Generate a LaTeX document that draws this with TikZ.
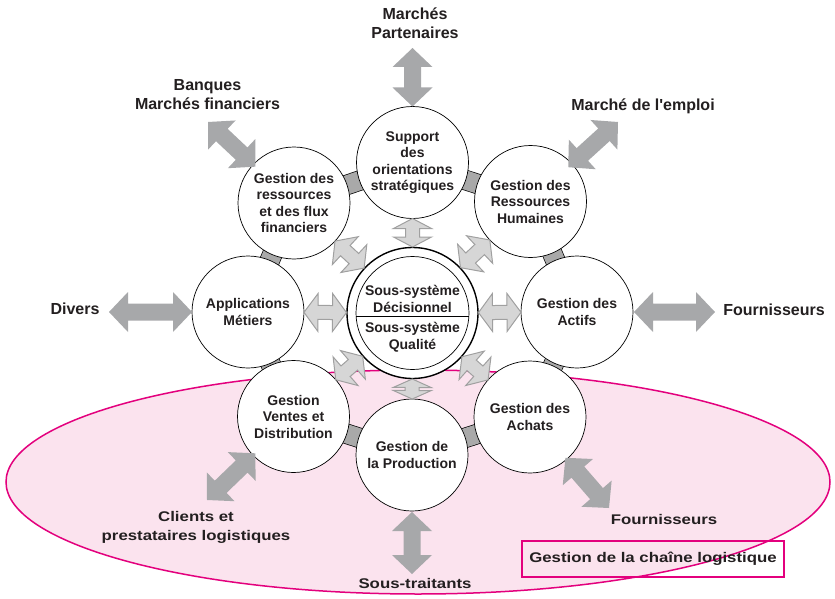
\documentclass[tikz,border=0pt]{standalone}
\usepackage{fontspec}
\setmainfont{Liberation Sans}
\newfontfamily\widefont[FakeStretch=1.2]{Liberation Sans}
\usetikzlibrary{calc}
\definecolor{bandgray}{HTML}{A9A9A9}
\definecolor{outarrow}{HTML}{A7A8AA}
\definecolor{inarrowfill}{HTML}{D6D6D6}
\definecolor{inarrowdraw}{HTML}{A0A0A0}
\definecolor{pinkfill}{HTML}{FBE3EE}
\definecolor{magentaline}{HTML}{E3007D}
\definecolor{txt}{HTML}{231F20}
\pgfdeclarelayer{bg}
\pgfsetlayers{bg,main}
\newcommand{\dblarrow}[6]{%
  \path (#1) coordinate (dA) (#2) coordinate (dB);
  \path ($(dA)!#4!(dB)$) coordinate (dA1) ($(dB)!#4!(dA)$) coordinate (dB1);
  \path[#3] (dA) -- ($(dA1)!#5!90:(dB)$) -- ($(dA1)!#6!90:(dB)$)
    -- ($(dB1)!#6!-90:(dA)$) -- ($(dB1)!#5!-90:(dA)$) -- (dB)
    -- ($(dB1)!#5!90:(dA)$) -- ($(dB1)!#6!90:(dA)$)
    -- ($(dA1)!#6!-90:(dB)$) -- ($(dA1)!#5!-90:(dB)$) -- cycle;
}
\begin{document}
\begin{tikzpicture}[x=1pt,y=-1pt,
  circ/.style={circle, draw=black, line width=0.7pt, fill=white, minimum size=112pt,
    inner sep=0pt, align=center, text=txt, font=\fontsize{14}{16.5}\selectfont\bfseries},
  ctext/.style={align=center, text=txt, inner sep=0pt, font=\fontsize{14}{16.5}\selectfont\bfseries},
  lab/.style={align=center, text=txt, inner sep=0pt, font=\fontsize{16}{19}\selectfont\bfseries},
  blab/.style={align=center, text=txt, inner sep=0pt, font=\widefont\fontsize{14}{19}\selectfont\bfseries},
  band/.style={draw=black, line width=0.7pt, double=bandgray, double distance=19pt},
  outarr/.style={fill=outarrow},
  inarr/.style={fill=inarrowfill, draw=inarrowdraw, line width=1pt, line join=miter}]
\useasboundingbox (0,0) rectangle (835,599);

% circles
\node[circ] (T)  at (412.5,162.5) {Support\\des\\orientations\\stratégiques};
\node[circ] (TR) at (530.5,201.5) {Gestion des\\Ressources\\Humaines};
\node[circ] (R)  at (577,312) {Gestion des\\Actifs};
\node[circ] (BR) at (530,417) {Gestion des\\Achats};
\node[circ] (B)  at (412,455) {Gestion de\\la Production};
\node[circ] (BL) at (293.5,416.5) {Gestion\\Ventes et\\Distribution};
\node[circ] (L)  at (248,312) {Applications\\Métiers};
\node[circ] (TL) at (294,203) {Gestion des\\ressources\\et des flux\\financiers};

% centre
\node[circle, draw=black, line width=1.4pt, fill=white, minimum size=131pt, inner sep=0pt] (C) at (412.5,313) {};
\node[circle, draw=black, line width=0.7pt, minimum size=113pt, inner sep=0pt] (Ci) at (C.center) {};
\draw[line width=0.7pt] ([yshift=-3pt]Ci.west) -- ([yshift=-3pt]Ci.east);
\node[ctext] (Cu) at (412.5,299) {Sous-système\\Décisionnel};
\node[ctext] (Cl) at (412.5,337) {Sous-système\\Qualité};

% background: ellipse and bands
\begin{pgfonlayer}{bg}
  \draw[fill=pinkfill, draw=magentaline, line width=1.5pt] (418,482) ellipse [x radius=412pt, y radius=112pt];
  \draw[band] (T.center) -- (TR.center);
  \draw[band] (TR.center) -- (R.center);
  \draw[band] (R.center) -- (BR.center);
  \draw[band] (BR.center) -- (B.center);
  \draw[band] (B.center) -- (BL.center);
  \draw[band] (BL.center) -- (L.center);
  \draw[band] (L.center) -- (TL.center);
  \draw[band] (TL.center) -- (T.center);
\end{pgfonlayer}

% inner arrows
\dblarrow{$(C)!66pt!(T)$}{$(T)!56pt!(C)$}{inarr}{10pt}{19pt}{7pt}
\dblarrow{$(C)!66pt!(TR)$}{$(TR)!56pt!(C)$}{inarr}{14pt}{19pt}{7pt}
\dblarrow{$(C)!66pt!(R)$}{$(R)!56pt!(C)$}{inarr}{14pt}{19pt}{7pt}
\dblarrow{$(C)!66pt!(BR)$}{$(BR)!56pt!(C)$}{inarr}{13pt}{19pt}{7pt}
\dblarrow{$(C)!66pt!(B)$}{$(B)!56pt!(C)$}{inarr}{8.5pt}{19pt}{7pt}
\dblarrow{$(C)!66pt!(BL)$}{$(BL)!56pt!(C)$}{inarr}{13pt}{19pt}{7pt}
\dblarrow{$(C)!66pt!(L)$}{$(L)!56pt!(C)$}{inarr}{14pt}{19pt}{7pt}
\dblarrow{$(C)!66pt!(TL)$}{$(TL)!56pt!(C)$}{inarr}{14pt}{19pt}{7pt}

% outer arrows
\coordinate (oT) at (412.5,48);
\coordinate (oL) at (109,312);
\coordinate (oR) at (715,312);
\coordinate (oTL) at (208,122);
\coordinate (oTR) at (618,122);
\coordinate (oBL) at (207,500);
\coordinate (oBR) at (609,508);
\coordinate (oB) at (412,574);
\dblarrow{oT}{$(T)!56pt!(oT)$}{outarr}{19pt}{20pt}{8.5pt}
\dblarrow{oL}{$(L)!56pt!(oL)$}{outarr}{19pt}{20pt}{8.5pt}
\dblarrow{oR}{$(R)!57pt!(oR)$}{outarr}{19pt}{20pt}{8.5pt}
\dblarrow{oTL}{$(TL)!53pt!(oTL)$}{outarr}{19pt}{20pt}{8.5pt}
\dblarrow{oTR}{$(TR)!51pt!(oTR)$}{outarr}{19pt}{20pt}{8.5pt}
\dblarrow{oBL}{$(BL)!53pt!(oBL)$}{outarr}{19pt}{20pt}{8.5pt}
\dblarrow{oBR}{$(BR)!54pt!(oBR)$}{outarr}{19pt}{20pt}{8.5pt}
\dblarrow{oB}{$(B)!57pt!(oB)$}{outarr}{19pt}{20pt}{8.5pt}

% labels
\node[lab] (lT) at (415,23) {Marchés\\Partenaires};
\node[lab] (lTL) at (207.5,95) {Banques\\Marchés financiers};
\node[lab] (lTR) at (643,106) {Marché de l\textquotesingle emploi};
\node[lab] (lL) at (75,309) {Divers};
\node[lab] (lR) at (774,309.5) {Fournisseurs};
\node[blab] (lBL) at (196,527) {Clients et\\prestataires logistiques};
\node[blab] (lBR) at (664,519) {Fournisseurs};
\node[blab] (lB) at (415,583) {Sous-traitants};
\node[blab, draw=magentaline, line width=1.8pt, minimum width=262pt, minimum height=36pt] (box) at (653,559) {Gestion de la chaîne logistique};
\end{tikzpicture}
\end{document}
